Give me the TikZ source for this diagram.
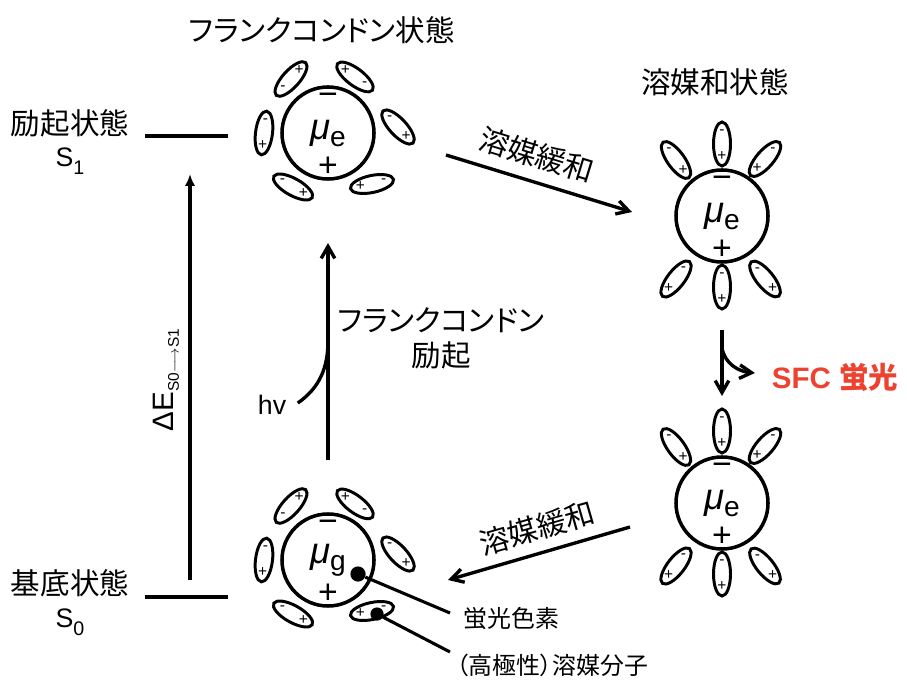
\documentclass[tikz,border=0pt]{standalone}
\usepackage{fontspec}
\setmainfont{Liberation Sans}
\newfontfamily\jp[RawFeature={+palt}]{Noto Sans CJK JP}
\usetikzlibrary{arrows.meta,positioning,calc}
\definecolor{sfcred}{RGB}{238,66,48}
\tikzset{
  solute/.style={draw,circle,line width=2.5pt,minimum size=2.3cm,inner sep=0pt},
  dipole/.style={line width=2.1pt},
  pmsign/.style={inner sep=0pt,font=\fontsize{11}{11}\selectfont},
  bigsign/.style={inner sep=0pt,font=\fontsize{24}{24}\selectfont},
  jlabel/.style={inner sep=1pt,font=\jp\fontsize{21}{25}\selectfont},
  jsmall/.style={inner sep=1pt,font=\jp\fontsize{17}{20}\selectfont},
  latin/.style={inner sep=1pt,font=\fontsize{19}{22}\selectfont},
  level/.style={line width=2.3pt},
  flow/.style={-{Straight Barb[length=3mm,width=3.4mm]},line width=2.4pt},
  bigflow/.style={-{Latex[length=3mm,width=2.6mm]},line width=2.4pt},
  photon/.style={line width=2.4pt},
  callout/.style={line width=2.2pt},
  dot/.style={circle,fill,inner sep=0pt,minimum size=0.38cm},
}
% one solvent molecule: ellipse round a named point, #2 points from - to +
\newcommand{\dipole}[2]{%
  \draw[dipole,rotate around={#2:(#1)}] (#1) ellipse (22 and 8.5);
  \node[pmsign] (#1-m) at ($(#1)+(#2:-12)$) {-};
  \node[pmsign] (#1-p) at ($(#1)+(#2:12)$) {+};
}
\newcommand{\charges}[1]{%
  \node[bigsign] (#1-neg) at ($(#1)+(0,34)$) {−};
  \node[bigsign] (#1-pos) at ($(#1)+(0,-34)$) {+};
}
% disordered shell (before relaxation)
\newcommand{\fcshell}[1]{%
  \foreach \dx/\dy/\a [count=\k] in {-37/54/48,27/56/143,70/6/-47,-64/0/-97,-35/-54/-29,44/-51/-168}{
    \coordinate (#1-\k) at ($(#1)+(\dx,\dy)$);
    \dipole{#1-\k}{\a}
  }
  \charges{#1}
}
% ordered shell (after relaxation)
\newcommand{\solvshell}[1]{%
  \foreach \dx/\dy/\a [count=\k] in {0/72/-90,-46/56/-54,43/57/-131,-46/-63/-128,0/-71/-90,43/-63/-51}{
    \coordinate (#1-\k) at ($(#1)+(\dx,\dy)$);
    \dipole{#1-\k}{\a}
  }
  \charges{#1}
}
\newcommand{\moment}[1]{{\fontsize{26}{26}\selectfont\itshape μ}\raisebox{-5pt}{\fontsize{20}{20}\selectfont #1}}
\newcommand{\lvl}[1]{S\raisebox{-5.5pt}{\fontsize{14}{14}\selectfont #1}}

\begin{document}
\begin{tikzpicture}[x=0.025cm,y=0.025cm]
  \useasboundingbox (0,0) rectangle (907,-681);

  % energy levels
  \node[jlabel] (exname) at (70,-123) {励起状態};
  \node[latin] (exsym) at (70,-161) {\lvl{1}};
  \node[jlabel] (gsname) at (70,-583) {基底状態};
  \node[latin] (gssym) at (70,-622) {\lvl{0}};
  \coordinate (s1a) at (145,-136);
  \coordinate (s1b) at (228,-136);
  \coordinate (s0a) at (145,-597);
  \coordinate (s0b) at (228,-597);
  \draw[level] (s1a) -- (s1b);
  \draw[level] (s0a) -- (s0b);
  \coordinate (de0) at (190,-580);
  \coordinate (de1) at (190,-174);
  \draw[bigflow] (de0) -- (de1);
  \node[rotate=90,inner sep=0pt,font=\fontsize{21}{21}\selectfont] (delabel) at (166,-380)
    {ΔE\raisebox{-4pt}{\fontsize{11}{11}\selectfont S0$\longrightarrow$S1}};

  % the four states
  \node[solute] (gs) at (328,-560) {\moment{g}};
  \fcshell{gs}
  \node[solute] (fc) at (328,-133) {\moment{e}};
  \fcshell{fc}
  \node[solute] (sv) at (722,-216) {\moment{e}};
  \solvshell{sv}
  \node[solute] (em) at (722,-503) {\moment{e}};
  \solvshell{em}

  \node[jlabel] (fcname) at (322,-30) {フランクコンドン状態};
  \node[jlabel] (svname) at (715,-82) {溶媒和状態};

  % excitation
  \draw[flow] ($(gs)+(0,100)$) -- ($(fc)+(0,-110)$);
  \coordinate (hvjoin) at (328,-340);
  \node[latin] (hv) at (272,-405) {hv};
  \draw[photon] ([xshift=0.25cm,yshift=0.05cm]hv.east) to[out=35,in=-90] (hvjoin);
  \node[jlabel,align=center] (fcexc) at (441,-338) {フランクコンドン\\励起};

  % relaxation in S1 and back in S0
  \draw[flow] ($(fc)+(118,-22)$) -- ($(sv)+(-90,4)$);
  \node[jlabel,rotate=-17] (relax1) at (537,-155) {溶媒緩和};
  \draw[flow] ($(em)+(-92,-24)$) -- ($(gs)+(120,-20)$);
  \node[jlabel,rotate=16] (relax2) at (537,-528) {溶媒緩和};

  % emission
  \draw[flow] ($(sv)+(0,-114)$) -- ($(em)+(0,107)$);
  \coordinate (branch) at (722,-348);
  \node[font=\bfseries\fontsize{21}{21}\selectfont,text=sfcred,inner sep=1pt] (sfc) at (835,-377)
    {SFC {\jp 蛍光}};
  \draw[flow] (branch) to[out=-80,in=175] ([xshift=-0.38cm,yshift=0.1cm]sfc.west);

  % legend
  \node[dot] (dye) at (358,-574) {};
  \node[dot,minimum size=0.33cm] (solv) at (377,-614) {};
  \node[jsmall,anchor=west] (dyelab) at (462,-619) {蛍光色素};
  \node[jsmall,anchor=west] (solvlab) at (455,-665) {（高極性）溶媒分子};
  \draw[callout] (dye) -- ($(dyelab.west)+(-12,6)$);
  \draw[callout] (solv) -- ($(solvlab.west)+(-5,13)$);
\end{tikzpicture}
\end{document}
